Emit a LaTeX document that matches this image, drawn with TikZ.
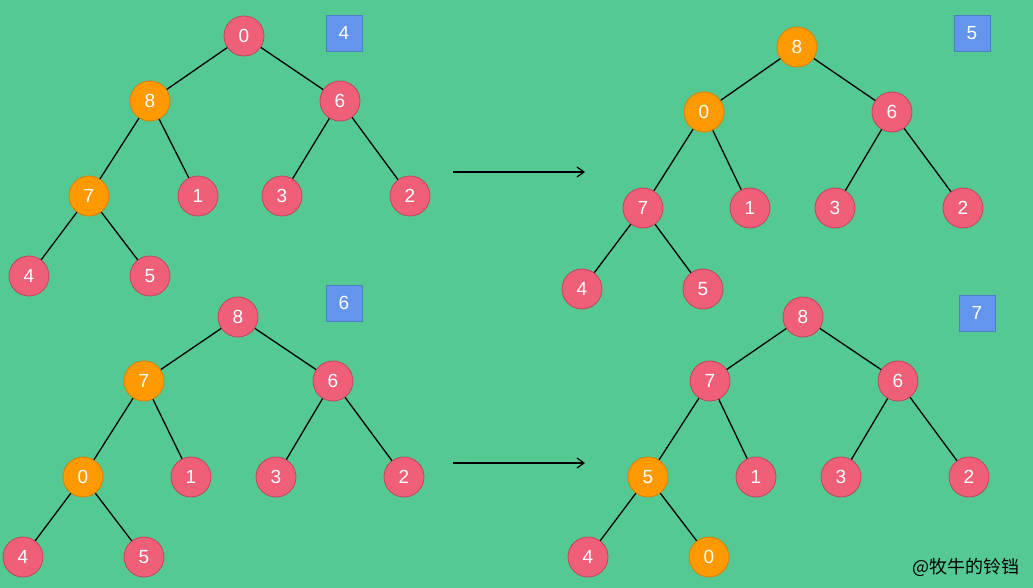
\documentclass[tikz,border=0pt]{standalone}
\usepackage{fontspec}
\setmainfont{Liberation Sans}
\newfontfamily\cjk{Noto Sans CJK SC}
\usepackage{tikz}
\usetikzlibrary{arrows.meta}

\definecolor{bggreen}{HTML}{55C994}
\definecolor{nodered}{HTML}{EF5F78}
\definecolor{nodeline}{HTML}{C0455C}
\definecolor{heaporange}{HTML}{FF9900}
\definecolor{orangeline}{HTML}{D88000}
\definecolor{stepblue}{HTML}{6495ED}
\definecolor{stepline}{HTML}{4A7FC1}

\tikzset{
	elem/.style={circle, draw=nodeline, fill=nodered, line width=0.8pt, minimum size=40pt, inner sep=0pt, text=white, font=\fontsize{19}{19}\selectfont},
	swap/.style={elem, draw=orangeline, fill=heaporange},
	stepbox/.style={draw=stepline, fill=stepblue, line width=0.8pt, minimum width=36pt, minimum height=36pt, inner sep=0pt, text=white, font=\fontsize{19}{19}\selectfont},
	edge/.style={line width=1.3pt, black},
	move/.style={-{Straight Barb[length=7pt, width=10pt, line width=1.2pt]}, line width=1.2pt},
}

\begin{document}
\begin{tikzpicture}[x=1pt, y=-1pt]
			\useasboundingbox[fill=bggreen] (0, 0) rectangle (1033, 588);
			%% step 4
			\node[elem] (a0) at (244, 36) {0};
			\node[swap] (a8) at (150, 101) {8};
			\node[elem] (a6) at (340, 101) {6};
			\node[swap] (a7) at (89, 196) {7};
			\node[elem] (a1) at (198, 196) {1};
			\node[elem] (a3) at (282, 196) {3};
			\node[elem] (a2) at (410, 196) {2};
			\node[elem] (a4) at (29, 276) {4};
			\node[elem] (a5) at (150, 276) {5};
			\node[stepbox] (sa) at (344, 33) {4};
			\draw[edge] (a0) -- (a8) (a0) -- (a6) (a8) -- (a7) (a8) -- (a1) (a6) -- (a3) (a6) -- (a2) (a7) -- (a4) (a7) -- (a5);
			%% step 5
			\node[swap] (b8) at (797, 47) {8};
			\node[swap] (b0) at (704, 112) {0};
			\node[elem] (b6) at (892, 112) {6};
			\node[elem] (b7) at (643, 208) {7};
			\node[elem] (b1) at (750, 208) {1};
			\node[elem] (b3) at (835, 208) {3};
			\node[elem] (b2) at (963, 208) {2};
			\node[elem] (b4) at (582, 289) {4};
			\node[elem] (b5) at (703, 289) {5};
			\node[stepbox] (sb) at (972, 33) {5};
			\draw[edge] (b8) -- (b0) (b8) -- (b6) (b0) -- (b7) (b0) -- (b1) (b6) -- (b3) (b6) -- (b2) (b7) -- (b4) (b7) -- (b5);
			%% step 6
			\node[elem] (c8) at (238, 317) {8};
			\node[swap] (c7) at (144, 381) {7};
			\node[elem] (c6) at (333, 381) {6};
			\node[swap] (c0) at (83, 477) {0};
			\node[elem] (c1) at (191, 477) {1};
			\node[elem] (c3) at (276, 477) {3};
			\node[elem] (c2) at (404, 477) {2};
			\node[elem] (c4) at (23, 557) {4};
			\node[elem] (c5) at (144, 557) {5};
			\node[stepbox] (sc) at (344, 303) {6};
			\draw[edge] (c8) -- (c7) (c8) -- (c6) (c7) -- (c0) (c7) -- (c1) (c6) -- (c3) (c6) -- (c2) (c0) -- (c4) (c0) -- (c5);
			%% step 7
			\node[elem] (d8) at (803, 317) {8};
			\node[elem] (d7) at (710, 381) {7};
			\node[elem] (d6) at (898, 381) {6};
			\node[swap] (d5) at (648, 477) {5};
			\node[elem] (d1) at (756, 477) {1};
			\node[elem] (d3) at (841, 477) {3};
			\node[elem] (d2) at (969, 477) {2};
			\node[elem] (d4) at (588, 557) {4};
			\node[swap] (d0) at (709, 557) {0};
			\node[stepbox] (sd) at (977, 313) {7};
			\draw[edge] (d8) -- (d7) (d8) -- (d6) (d7) -- (d5) (d7) -- (d1) (d6) -- (d3) (d6) -- (d2) (d5) -- (d4) (d5) -- (d0);
			%% arrows
			\coordinate (p1) at (453, 172);
			\coordinate (q1) at (585, 172);
			\coordinate (p2) at (453, 463);
			\coordinate (q2) at (585, 463);
			\draw[move] (p1) -- (q1);
			\draw[move] (p2) -- (q2);
			%%
			\node[font=\cjk\fontsize{18}{18}\selectfont, inner sep=0pt] (mark) at (966, 567) {@牧牛的铃铛};
		\end{tikzpicture}
\end{document}
